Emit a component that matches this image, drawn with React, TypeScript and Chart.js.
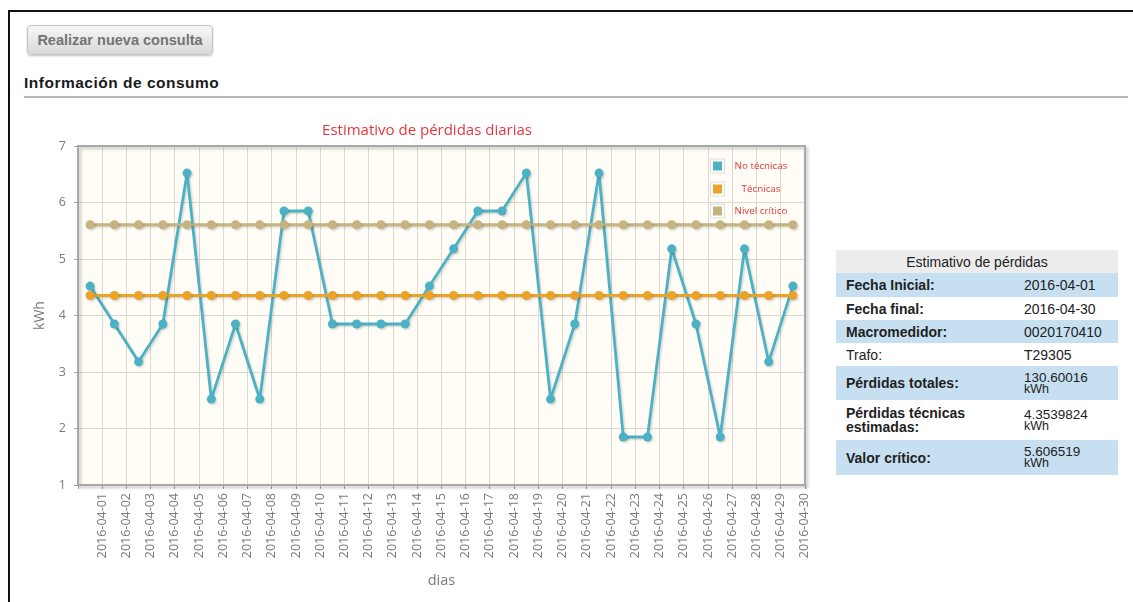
import React, { useEffect, useRef } from "react";
import { Chart, registerables } from "chart.js";

Chart.register(...registerables);

const days = [
  "2016-04-01", "2016-04-02", "2016-04-03", "2016-04-04", "2016-04-05",
  "2016-04-06", "2016-04-07", "2016-04-08", "2016-04-09", "2016-04-10",
  "2016-04-11", "2016-04-12", "2016-04-13", "2016-04-14", "2016-04-15",
  "2016-04-16", "2016-04-17", "2016-04-18", "2016-04-19", "2016-04-20",
  "2016-04-21", "2016-04-22", "2016-04-23", "2016-04-24", "2016-04-25",
  "2016-04-26", "2016-04-27", "2016-04-28", "2016-04-29", "2016-04-30",
];

const noTecnicas = [
  4.52, 3.85, 3.18, 3.85, 6.52, 2.52, 3.85, 2.52, 5.85, 5.85,
  3.85, 3.85, 3.85, 3.85, 4.52, 5.18, 5.85, 5.85, 6.52, 2.52,
  3.85, 6.52, 1.85, 1.85, 5.18, 3.85, 1.85, 5.18, 3.18, 4.52,
];

const tecnicas = [
  4.3539824, 4.3539824, 4.3539824, 4.3539824, 4.3539824, 4.3539824,
  4.3539824, 4.3539824, 4.3539824, 4.3539824, 4.3539824, 4.3539824,
  4.3539824, 4.3539824, 4.3539824, 4.3539824, 4.3539824, 4.3539824,
  4.3539824, 4.3539824, 4.3539824, 4.3539824, 4.3539824, 4.3539824,
  4.3539824, 4.3539824, 4.3539824, 4.3539824, 4.3539824, 4.3539824,
];

const nivelCritico = [
  5.606519, 5.606519, 5.606519, 5.606519, 5.606519, 5.606519,
  5.606519, 5.606519, 5.606519, 5.606519, 5.606519, 5.606519,
  5.606519, 5.606519, 5.606519, 5.606519, 5.606519, 5.606519,
  5.606519, 5.606519, 5.606519, 5.606519, 5.606519, 5.606519,
  5.606519, 5.606519, 5.606519, 5.606519, 5.606519, 5.606519,
];

const seriesNames = ["No técnicas", "Técnicas", "Nivel crítico"];
const seriesColors = ["#4bb2c5", "#eaa228", "#c5b47f"];
const chartTitle = "Estimativo de pérdidas diarias";

const tableRows: { label: string; value: string; bold: boolean; shaded: boolean; unit?: boolean }[] = [
  { label: "Fecha Inicial:", value: "2016-04-01", bold: true, shaded: true },
  { label: "Fecha final:", value: "2016-04-30", bold: true, shaded: false },
  { label: "Macromedidor:", value: "0020170410", bold: true, shaded: true },
  { label: "Trafo:", value: "T29305", bold: false, shaded: false },
  { label: "Pérdidas totales:", value: "130.60016 kWh", bold: true, shaded: true, unit: true },
  { label: "Pérdidas técnicas estimadas:", value: "4.3539824 kWh", bold: true, shaded: false, unit: true },
  { label: "Valor crítico:", value: "5.606519 kWh", bold: true, shaded: true, unit: true },
];
const rowHeights = [24, 23, 23, 23, 34, 40, 35];

const FONT = '"Open Sans", "DejaVu Sans", sans-serif';

const decorPlugin = {
  id: "decor",
  beforeDraw(chart: any) {
    const { ctx, chartArea: a } = chart;
    ctx.save();
    ctx.fillStyle = "#fffdf6";
    ctx.fillRect(a.left, a.top, a.right - a.left, a.bottom - a.top);
    ctx.restore();
  },
  beforeDatasetsDraw(chart: any) {
    const { ctx, chartArea: a } = chart;
    ctx.save();
    ctx.shadowColor = "rgba(0,0,0,0.25)";
    ctx.shadowOffsetX = 2;
    ctx.shadowOffsetY = 2;
    ctx.shadowBlur = 3;
    ctx.strokeStyle = "#a8a8a8";
    ctx.lineWidth = 2;
    ctx.strokeRect(a.left, a.top, a.right - a.left, a.bottom - a.top);
    ctx.restore();
  },
  beforeDatasetDraw(chart: any) {
    const ctx = chart.ctx;
    ctx.save();
    ctx.shadowColor = "rgba(0,0,0,0.15)";
    ctx.shadowOffsetX = 1.5;
    ctx.shadowOffsetY = 1.5;
    ctx.shadowBlur = 2;
  },
  afterDatasetDraw(chart: any) {
    chart.ctx.restore();
  },
  afterDraw(chart: any) {
    const { ctx, chartArea: a } = chart;
    ctx.save();
    ctx.fillStyle = "#e5363c";
    ctx.font = `15px ${FONT}`;
    ctx.textAlign = "center";
    ctx.textBaseline = "middle";
    ctx.fillText(chartTitle, chart.width / 2, 19);

    const rowsY = [20, 43, 65];
    const sx = a.right - 92;
    const tx = a.right - 44;
    ctx.font = `9.8px ${FONT}`;
    seriesNames.forEach((name, i) => {
      const cy = a.top + rowsY[i];
      ctx.fillStyle = "rgba(255,255,255,0.85)";
      ctx.fillRect(sx - 3, cy - 7.5, 15, 15);
      ctx.strokeStyle = "#dddddd";
      ctx.lineWidth = 1;
      ctx.strokeRect(sx - 2.5, cy - 7, 14, 14);
      ctx.fillStyle = seriesColors[i];
      ctx.fillRect(sx, cy - 4.5, 9, 9);
      ctx.fillStyle = "#e5363c";
      ctx.fillText(name, tx, cy);
    });
    ctx.restore();
  },
};

function LossChart() {
  const ref = useRef<HTMLCanvasElement | null>(null);
  useEffect(() => {
    if (!ref.current) return;
    const mk = (label: string, data: number[], color: string, order: number) => ({
      label,
      data,
      borderColor: color,
      backgroundColor: color,
      pointBackgroundColor: color,
      borderWidth: 2.8,
      borderJoinStyle: "round",
      borderCapStyle: "round",
      pointRadius: 4.5,
      pointBorderWidth: 0,
      tension: 0,
      order,
    });
    const chart = new Chart(ref.current, {
      type: "line",
      data: {
        labels: days,
        datasets: [
          mk(seriesNames[0], noTecnicas, seriesColors[0], 3),
          mk(seriesNames[1], tecnicas, seriesColors[1], 2),
          mk(seriesNames[2], nivelCritico, seriesColors[2], 1),
        ],
      },
      options: {
        animation: false,
        responsive: true,
        maintainAspectRatio: false,
        layout: { padding: { top: 34, right: 29, left: 0, bottom: 0 } },
        plugins: {
          legend: { display: false },
          title: { display: false },
          tooltip: { enabled: false },
        },
        scales: {
          x: {
            type: "category",
            offset: true,
            grid: { offset: true, color: "#dcdad0", tickColor: "#a0a0a0", tickLength: 4, lineWidth: 1 },
            border: { display: false },
            ticks: {
              autoSkip: false,
              minRotation: 90,
              maxRotation: 90,
              labelOffset: 12,
              padding: 4,
              color: "#7a7a7a",
              font: { family: FONT, size: 12.5 },
            },
            title: {
              display: true,
              text: "dias",
              color: "#7a7a7a",
              font: { family: FONT, size: 14.5 },
              padding: { top: 0, bottom: 10 },
            },
            afterFit: (s: any) => {
              s.height = 115;
            },
          },
          y: {
            min: 1,
            max: 7,
            grid: { color: "#dcdad0", tickColor: "#a0a0a0", tickLength: 4 },
            border: { display: false },
            ticks: {
              stepSize: 1,
              padding: 8,
              color: "#7a7a7a",
              font: { family: FONT, size: 12.5 },
            },
            title: {
              display: true,
              text: "kWh",
              color: "#7a7a7a",
              font: { family: FONT, size: 14 },
              padding: { top: 12, bottom: 0 },
            },
            afterFit: (s: any) => {
              s.width = 58;
            },
          },
        },
      },
      plugins: [decorPlugin],
    } as any);
    return () => chart.destroy();
  }, []);
  return (
    <div style={{ position: "absolute", left: 20, top: 112, width: 814, height: 488 }}>
      <canvas ref={ref} />
    </div>
  );
}

export default function App() {
  const sans = '"Liberation Sans", Arial, sans-serif';
  return (
    <div
      style={{
        position: "absolute",
        left: 0,
        top: 0,
        width: 1133,
        height: 602,
        overflow: "hidden",
        background: "#fff",
        fontFamily: sans,
      }}
    >
      <div
        style={{
          position: "absolute",
          left: 8,
          top: 10,
          width: 1200,
          height: 700,
          border: "2px solid #111",
        }}
      />
      <div
        style={{
          position: "absolute",
          left: 27,
          top: 25,
          width: 186,
          height: 30,
          boxSizing: "border-box",
          border: "1px solid #c4c4c4",
          borderRadius: 4,
          background: "linear-gradient(#f6f6f6, #d9d9d9)",
          boxShadow: "0 1px 2px rgba(0,0,0,0.25)",
          color: "#747474",
          fontWeight: "bold",
          fontSize: 14.5,
          lineHeight: "28px",
          textAlign: "center",
        }}
      >
        Realizar nueva consulta
      </div>
      <div
        style={{
          position: "absolute",
          left: 24,
          top: 74,
          fontWeight: "bold",
          fontSize: 15.5,
          letterSpacing: 0.5,
          lineHeight: "18px",
          color: "#1a1a1a",
          whiteSpace: "nowrap",
        }}
      >
        Información de consumo
      </div>
      <div style={{ position: "absolute", left: 24, top: 96, width: 1104, height: 2, background: "#b8b8b8" }} />
      <LossChart />
      <table
        style={{
          position: "absolute",
          left: 836,
          top: 250,
          width: 282,
          borderCollapse: "collapse",
          fontSize: 14,
          color: "#222",
          tableLayout: "fixed",
        }}
      >
        <colgroup>
          <col style={{ width: 182 }} />
          <col style={{ width: 100 }} />
        </colgroup>
        <thead>
          <tr style={{ height: 23, background: "#ececec" }}>
            <th colSpan={2} style={{ fontWeight: "normal", fontSize: 14, padding: 0, textAlign: "center" }}>
              Estimativo de pérdidas
            </th>
          </tr>
        </thead>
        <tbody>
          {tableRows.map((r, i) => (
            <tr key={r.label} style={{ height: rowHeights[i], background: r.shaded ? "#c7e0f1" : "#fff" }}>
              <td
                style={{
                  fontWeight: r.bold ? "bold" : "normal",
                  padding: "0 0 0 10px",
                  lineHeight: "14px",
                  verticalAlign: "middle",
                }}
              >
                {r.label}
              </td>
              <td
                style={{
                  padding: "0 0 0 6px",
                  lineHeight: r.unit ? "11px" : "14px",
                  fontSize: r.unit ? 13.5 : 14,
                  verticalAlign: "middle",
                }}
              >
                {r.unit ? (
                  <>
                    {r.value.split(" ")[0]}
                    <br />
                    <span style={{ fontSize: 12.5 }}>{r.value.split(" ")[1]}</span>
                  </>
                ) : (
                  r.value
                )}
              </td>
            </tr>
          ))}
        </tbody>
      </table>
    </div>
  );
}
